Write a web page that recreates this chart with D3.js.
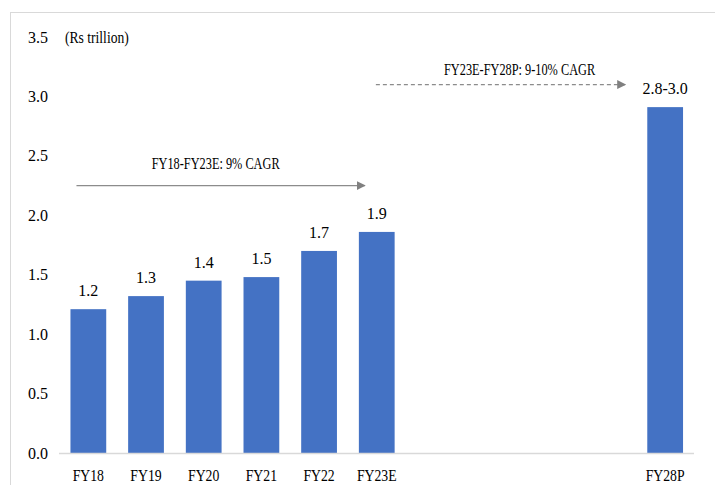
<!DOCTYPE html>
<html><head><meta charset="utf-8">
<script src="https://cdn.jsdelivr.net/npm/d3@7"></script>
<style>body{margin:0;background:#fff}svg{display:block}svg text{font-family:"Liberation Serif","Times New Roman",serif;fill:#000}</style>
</head><body><svg id="c" width="715" height="485"></svg>
<script>
const categories = ["FY18","FY19","FY20","FY21","FY22","FY23E","FY24","FY25","FY26","FY27","FY28P"];
const values = [1.21, 1.32, 1.45, 1.48, 1.70, 1.86, null, null, null, null, 2.91];
const valueLabels = ["1.2","1.3","1.4","1.5","1.7","1.9","","","","","2.8-3.0"];
const yTicks = [0,0.5,1.0,1.5,2.0,2.5,3.0,3.5];
const hiddenCats = ["FY24","FY25","FY26","FY27"];
const annotations = [
  {from:"FY18", to:"FY23E", yVal:2.25, text:"FY18-FY23E: 9% CAGR", dashed:false},
  {from:"FY23E", to:"FY28P", yVal:3.10, text:"FY23E-FY28P: 9-10% CAGR", dashed:true}
];
const FONT = '"Liberation Serif","Times New Roman",serif';
const FS = 16;

const svg = d3.select("#c");
const x = d3.scaleBand().domain(categories).range([59.5,694]).paddingInner(0.38).paddingOuter(0.19);
const y = d3.scaleLinear().domain([0,3.5]).range([453,37]);

// frame
svg.append("line").attr("x1",10).attr("x2",715).attr("y1",12.5).attr("y2",12.5).attr("stroke","#d9d9d9");
svg.append("line").attr("x1",10.5).attr("x2",10.5).attr("y1",12).attr("y2",485).attr("stroke","#d9d9d9");

function condText(px, py, txt, sx, anchor){
  return svg.append("text").attr("transform",`translate(${px},${py}) scale(${sx},1)`)
    .attr("text-anchor",anchor||"middle").attr("font-size",FS).style("font-family",FONT).text(txt);
}

// y axis labels
const yAxis = d3.axisLeft(y).tickValues(yTicks).tickFormat(d3.format(".1f")).tickSize(0).tickPadding(0);
const ya = svg.append("g").attr("transform","translate(48,0)").call(yAxis).attr("font-family",FONT).attr("font-size",FS);
ya.select(".domain").remove();
ya.selectAll("text").style("font-family",FONT).attr("font-size",FS).attr("fill","#000");
condText(65, y(3.5)+5.5, "(Rs trillion)", 0.85, "start");

// bars
const data = categories.map((c,i)=>({c, v:values[i], l:valueLabels[i]})).filter(d=>d.v!=null);
svg.selectAll("rect.bar").data(data).enter().append("rect")
  .attr("x",d=>x(d.c)).attr("width",x.bandwidth())
  .attr("y",d=>y(d.v)).attr("height",d=>y(0)-y(d.v)).attr("fill","#4472C4");
svg.selectAll("text.vl").data(data).enter().append("text")
  .attr("x",d=>x(d.c)+x.bandwidth()/2).attr("y",d=>y(d.v)-13)
  .attr("text-anchor","middle").attr("font-size",FS).style("font-family",FONT).text(d=>d.l);

// baseline + x labels
svg.append("line").attr("x1",59).attr("x2",694).attr("y1",y(0)+0.5).attr("y2",y(0)+0.5).attr("stroke","#d9d9d9").attr("stroke-width",1.5);
const xAxis = d3.axisBottom(x).tickSize(0).tickPadding(0);
const xa = svg.append("g").attr("transform",`translate(0,${y(0)+23})`).call(xAxis).attr("font-family",FONT).attr("font-size",FS);
xa.select(".domain").remove();
xa.selectAll("text").style("font-family",FONT).attr("font-size",FS).attr("fill","#000").attr("dy","0.32em")
  .attr("transform","scale(0.86,1)");
xa.selectAll(".tick").filter(d=>hiddenCats.includes(d)).remove();

// arrows
const defs = svg.append("defs");
defs.append("marker").attr("id","ah").attr("viewBox","0 0 10 10").attr("refX",9).attr("refY",5)
  .attr("markerWidth",9).attr("markerHeight",9).attr("markerUnits","userSpaceOnUse").attr("orient","auto")
  .append("path").attr("d","M0,0L10,5L0,10z").attr("fill","#808080");
const arrowGeom = [
  {x1: x("FY18")+6, x2: x("FY23E")+6, dx:-5, ty:-17},
  {x1: x("FY23E")+17, x2: x("FY28P")-22, dx:19, ty:-9.5}
];
annotations.forEach((a,i)=>{
  const g = arrowGeom[i];
  svg.append("line").attr("x1",g.x1).attr("x2",g.x2).attr("y1",y(a.yVal)).attr("y2",y(a.yVal))
    .attr("stroke","#8c8c8c").attr("stroke-width",1.2)
    .attr("stroke-dasharray",a.dashed?"4,3":null).attr("marker-end","url(#ah)");
  condText((g.x1+g.x2)/2 + g.dx, y(a.yVal)+g.ty, a.text, 0.77, "middle");
});
</script></body></html>
